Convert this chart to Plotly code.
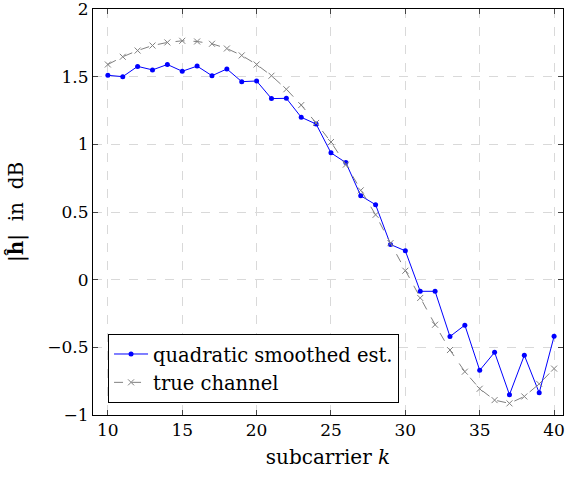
import plotly.graph_objects as go

# subcarrier indices
subcarriers = list(range(10, 41))

# quadratic smoothed channel estimate |h| in dB
smoothed_est = [1.51, 1.50, 1.576, 1.55, 1.59, 1.54, 1.578, 1.507, 1.557, 1.463,
                1.468, 1.338, 1.34, 1.20, 1.15, 0.937, 0.865, 0.62, 0.554, 0.26,
                0.213, -0.086, -0.086, -0.42, -0.336, -0.67, -0.537, -0.85, -0.559,
                -0.836, -0.419]

# true channel |h| in dB
true_channel = [1.59, 1.647, 1.693, 1.73, 1.753, 1.765, 1.76, 1.743, 1.708, 1.657,
                1.59, 1.507, 1.407, 1.29, 1.158, 1.017, 0.85, 0.66, 0.479, 0.27,
                0.066, -0.135, -0.333, -0.52, -0.68, -0.806, -0.89, -0.914, -0.863,
                -0.77, -0.657]

x_ticks = [10, 15, 20, 25, 30, 35, 40]
y_ticks = [-1, -0.5, 0, 0.5, 1, 1.5, 2]
y_tick_text = ["\u22121", "\u22120.5", "0", "0.5", "1", "1.5", "2"]

FONT = "DejaVu Serif"
TICK_FS = 17
TITLE_FS = 20
LEGEND_FS = 19.5

fig = go.Figure()
fig.add_trace(go.Scatter(
    x=subcarriers, y=smoothed_est, mode="lines+markers",
    name="quadratic smoothed est.",
    line=dict(color="#0000ff", width=1),
    marker=dict(symbol="circle", size=5, color="#0000ff"),
))
fig.add_trace(go.Scatter(
    x=subcarriers, y=true_channel, mode="lines+markers",
    name="true channel",
    line=dict(color="#808080", width=1, dash="dash"),
    marker=dict(symbol="x-thin", size=6, line=dict(color="#808080", width=1)),
))

axis_common = dict(
    showline=True, linecolor="black", linewidth=1, mirror="allticks",
    ticks="inside", ticklen=5, tickcolor="#444444", tickwidth=1,
    showgrid=True, gridcolor="#d9d9d9", griddash="dash", gridwidth=1,
    zeroline=False, ticklabeloverflow="allow",
    tickfont=dict(family=FONT, size=TICK_FS, color="black"),
)

fig.update_xaxes(
    range=[9.0, 40.6], tickvals=x_ticks,
    title=dict(text="subcarrier <i>k</i>",
               font=dict(family=FONT, size=TITLE_FS, color="black"), standoff=10),
    **axis_common,
)
fig.update_yaxes(
    range=[-1, 2], tickvals=y_ticks, ticktext=y_tick_text,
    title=dict(text="|<b>ĥ</b>|\u00a0 in\u00a0 dB",
               font=dict(family=FONT, size=TITLE_FS, color="black"), standoff=18),
    **axis_common,
)

fig.update_layout(
    width=565, height=480,
    margin=dict(l=93, r=2, t=9, b=65, autoexpand=False),
    paper_bgcolor="white", plot_bgcolor="white",
    showlegend=True,
    legend=dict(
        x=0.032, y=0.03, xanchor="left", yanchor="bottom",
        bgcolor="white", bordercolor="black", borderwidth=1,
        font=dict(family=FONT, size=LEGEND_FS, color="black"),
        tracegroupgap=0, itemwidth=34,
    ),
)

fig.write_html("out.html")
